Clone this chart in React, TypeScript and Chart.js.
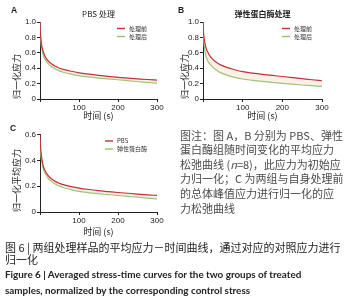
import React, { useEffect, useRef } from "react";
import { Chart, registerables } from "chart.js";

Chart.register(...registerables);

// ---------- data ----------
const timeSec = [0, 1, 2, 4, 6, 8, 10, 15, 20, 30, 40, 50, 60, 80, 100, 125, 150, 175, 200, 225, 250, 275, 300];

const pbsBefore = [1.0, 0.86, 0.79, 0.71, 0.66, 0.62, 0.59, 0.535, 0.5, 0.455, 0.425, 0.4, 0.385, 0.36, 0.34, 0.322, 0.307, 0.294, 0.282, 0.271, 0.262, 0.253, 0.245];
const pbsAfter = [1.0, 0.82, 0.75, 0.67, 0.62, 0.58, 0.55, 0.5, 0.465, 0.42, 0.39, 0.365, 0.348, 0.323, 0.303, 0.287, 0.272, 0.261, 0.25, 0.238, 0.227, 0.216, 0.206];

const elastaseBefore = [1.0, 0.89, 0.82, 0.75, 0.7, 0.66, 0.63, 0.58, 0.54, 0.49, 0.455, 0.43, 0.41, 0.38, 0.355, 0.336, 0.32, 0.306, 0.292, 0.278, 0.264, 0.25, 0.237];
const elastaseAfter = [1.0, 0.83, 0.75, 0.66, 0.6, 0.55, 0.52, 0.47, 0.44, 0.39, 0.355, 0.33, 0.31, 0.28, 0.26, 0.243, 0.228, 0.215, 0.203, 0.192, 0.182, 0.173, 0.165];

const groupPBS = [0.6, 0.52, 0.48, 0.43, 0.39, 0.36, 0.34, 0.31, 0.285, 0.255, 0.235, 0.222, 0.212, 0.197, 0.185, 0.174, 0.165, 0.158, 0.151, 0.145, 0.139, 0.133, 0.128];
const groupElastase = [0.56, 0.48, 0.44, 0.4, 0.365, 0.34, 0.32, 0.29, 0.265, 0.235, 0.215, 0.2, 0.19, 0.173, 0.16, 0.15, 0.142, 0.135, 0.128, 0.121, 0.115, 0.108, 0.102];

const labelsAB = ["处理前", "处理后"];
const labelsC = ["PBS", "弹性蛋白酶"];

// ---------- style ----------
const RED = "#c3303e";
const GREEN = "#8fc46e";
const BAND = "rgba(245, 200, 170, 0.28)";
const INK = "#222";
const CJK = "'Noto Sans CJK SC', sans-serif";
const LAT = "'Liberation Sans', Arial, sans-serif";

const insideLegend = {
  id: "insideLegend",
  afterDatasetsDraw(chart: any, _args: any, opts: any) {
    if (!opts || !opts.display) return;
    const { ctx, chartArea } = chart;
    const items = chart.data.datasets.filter((d: any) => d.label);
    ctx.save();
    ctx.font = `${opts.fontSize}px ${CJK}`;
    const maxW = Math.max(...items.map((d: any) => ctx.measureText(d.label).width));
    const textX = chartArea.right - opts.rightGap - maxW;
    const x1 = textX - opts.gap;
    const x0 = x1 - opts.lineLen;
    items.forEach((d: any, i: number) => {
      const y = chartArea.top + opts.firstRow + i * opts.rowGap;
      ctx.strokeStyle = d.borderColor;
      ctx.lineWidth = 1.4;
      ctx.beginPath();
      ctx.moveTo(x0, y);
      ctx.lineTo(x1, y);
      ctx.stroke();
      ctx.fillStyle = "#333";
      ctx.textAlign = "left";
      ctx.textBaseline = "middle";
      ctx.fillText(d.label, textX, y);
    });
    ctx.restore();
  },
};

type Panel = {
  title?: string;
  titleBold?: boolean;
  yMax: number;
  yTitle: string;
  yWidth: number;
  yTitlePad: number;
  padRight: number;
  padTop: number;
  xHeight: number;
  xTitlePadBottom: number;
  labels: string[];
  series: number[][];
};

function makeConfig(p: Panel): any {
  const colors = [RED, GREEN];
  return {
    type: "line",
    data: {
      datasets: p.series.map((vals, i) => ({
        label: p.labels[i],
        data: timeSec.map((t, k) => ({ x: t, y: vals[k] })),
        borderColor: colors[i],
        backgroundColor: BAND,
        borderWidth: 1.2,
        pointRadius: 0,
        cubicInterpolationMode: "monotone",
        fill: i === 0 ? "+1" : false,
      })),
    },
    plugins: [insideLegend],
    options: {
      responsive: false,
      animation: false,
      devicePixelRatio: 1,
      layout: { padding: { left: 0, right: p.padRight, top: p.padTop, bottom: 0 } },
      plugins: {
        legend: { display: false },
        tooltip: { enabled: false },
        title: {
          display: !!p.title,
          text: p.title || "",
          fullSize: false,
          color: INK,
          font: { family: CJK, size: 8, weight: p.titleBold ? "bold" : "normal", lineHeight: 1.2 },
          padding: { top: 9, bottom: 3.4 },
        },
        insideLegend: { display: true, fontSize: 6, rightGap: 10, gap: 4, lineLen: 8, firstRow: 6.5, rowGap: 8 },
      },
      scales: {
        x: {
          type: "linear",
          min: 0,
          max: 300,
          afterFit: (s: any) => {
            s.height = p.xHeight;
          },
          ticks: {
            stepSize: 100,
            maxRotation: 0,
            padding: 1,
            color: INK,
            font: { family: LAT, size: 8 },
            callback: (v: number) => (v === 0 ? "" : String(v)),
          },
          grid: { display: true, drawOnChartArea: false, drawTicks: true, tickLength: 3, color: INK, lineWidth: 1 },
          border: { display: true, color: INK, width: 1 },
          title: {
            display: true,
            text: "时间 (s)",
            color: INK,
            font: { family: CJK, size: 9, lineHeight: 1.2 },
            padding: { top: 0, bottom: p.xTitlePadBottom },
          },
        },
        y: {
          type: "linear",
          min: 0,
          max: p.yMax,
          afterFit: (s: any) => {
            s.width = p.yWidth;
          },
          ticks: {
            stepSize: 0.2,
            padding: 1,
            color: INK,
            font: { family: LAT, size: 8 },
            callback: (v: number) => (Math.abs(v) < 1e-9 ? "0" : Number(v).toFixed(1)),
          },
          grid: { display: true, drawOnChartArea: false, drawTicks: true, tickLength: 3, color: INK, lineWidth: 1 },
          border: { display: true, color: INK, width: 1 },
          title: {
            display: true,
            text: p.yTitle,
            align: "start",
            color: INK,
            font: { family: CJK, size: 9, lineHeight: 1.2 },
            padding: { top: p.yTitlePad, bottom: 0 },
          },
        },
      },
    },
  };
}

const panelA: Panel = {
  title: "PBS 处理",
  yMax: 1,
  yTitle: "归一化应力",
  yWidth: 40,
  yTitlePad: 11,
  padRight: 13,
  padTop: 0,
  xHeight: 23,
  xTitlePadBottom: 0.6,
  labels: labelsAB,
  series: [pbsBefore, pbsAfter],
};

const panelB: Panel = {
  title: "弹性蛋白酶处理",
  titleBold: true,
  yMax: 1,
  yTitle: "归一化应力",
  yWidth: 33,
  yTitlePad: 9.6,
  padRight: 23,
  padTop: 0,
  xHeight: 23,
  xTitlePadBottom: 0.6,
  labels: labelsAB,
  series: [elastaseBefore, elastaseAfter],
};

const panelC: Panel = {
  yMax: 0.6,
  yTitle: "归一化平均应力",
  yWidth: 40,
  yTitlePad: 11,
  padRight: 13,
  padTop: 14.5,
  xHeight: 30,
  xTitlePadBottom: 4.6,
  labels: labelsC,
  series: [groupPBS, groupElastase],
};

function ChartCanvas({ panel, left, top, width, height }: { panel: Panel; left: number; top: number; width: number; height: number }) {
  const ref = useRef<HTMLCanvasElement | null>(null);
  useEffect(() => {
    if (!ref.current) return;
    const chart = new Chart(ref.current, makeConfig(panel));
    return () => chart.destroy();
  }, [panel]);
  return (
    <canvas
      ref={ref}
      width={width}
      height={height}
      style={{ position: "absolute", left, top, width, height }}
    />
  );
}

const abs = (left: number, top: number, extra: any = {}) => ({
  position: "absolute" as const,
  left,
  top,
  whiteSpace: "nowrap" as const,
  ...extra,
});

export default function App() {
  const panelLabel = { fontFamily: LAT, fontWeight: "bold", fontSize: 8.5, lineHeight: "10px", color: INK };
  const note = { fontFamily: CJK, fontSize: 11, lineHeight: "14.6px", color: "#4a4a4a" };
  return (
    <div style={{ position: "absolute", left: 0, top: 0, width: 345, height: 300, background: "#fff", overflow: "hidden" }}>
      <ChartCanvas panel={panelA} left={0} top={0} width={170} height={122} />
      <ChartCanvas panel={panelB} left={170} top={0} width={175} height={122} />
      <ChartCanvas panel={panelC} left={0} top={120} width={170} height={122} />

      <div style={abs(11, 5, panelLabel)}>A</div>
      <div style={abs(178, 5, panelLabel)}>B</div>
      <div style={abs(10, 123, panelLabel)}>C</div>

      <div style={abs(180, 127.7, note)}>
        <div>图注：图 A，B 分别为 PBS、弹性</div>
        <div>蛋白酶组随时间变化的平均应力</div>
        <div>
          松弛曲线 (<i>n</i>=8)，此应力为初始应
        </div>
        <div>力归一化；C 为两组与自身处理前</div>
        <div>的总体峰值应力进行归一化的应</div>
        <div>力松弛曲线</div>
      </div>

      <div style={abs(5, 240.7, { fontFamily: CJK, fontSize: 11, lineHeight: "12.5px", color: INK })}>
        <div>图 6 | 两组处理样品的平均应力－时间曲线，通过对应的对照应力进行</div>
        <div>归一化</div>
      </div>

      <div style={abs(5, 267, { fontFamily: "Lato, sans-serif", fontWeight: "bold", fontSize: 9.9, lineHeight: "15.5px", color: INK })}>
        <div>Figure 6 | Averaged stress-time curves for the two groups of treated</div>
        <div>samples, normalized by the corresponding control stress</div>
      </div>
    </div>
  );
}
